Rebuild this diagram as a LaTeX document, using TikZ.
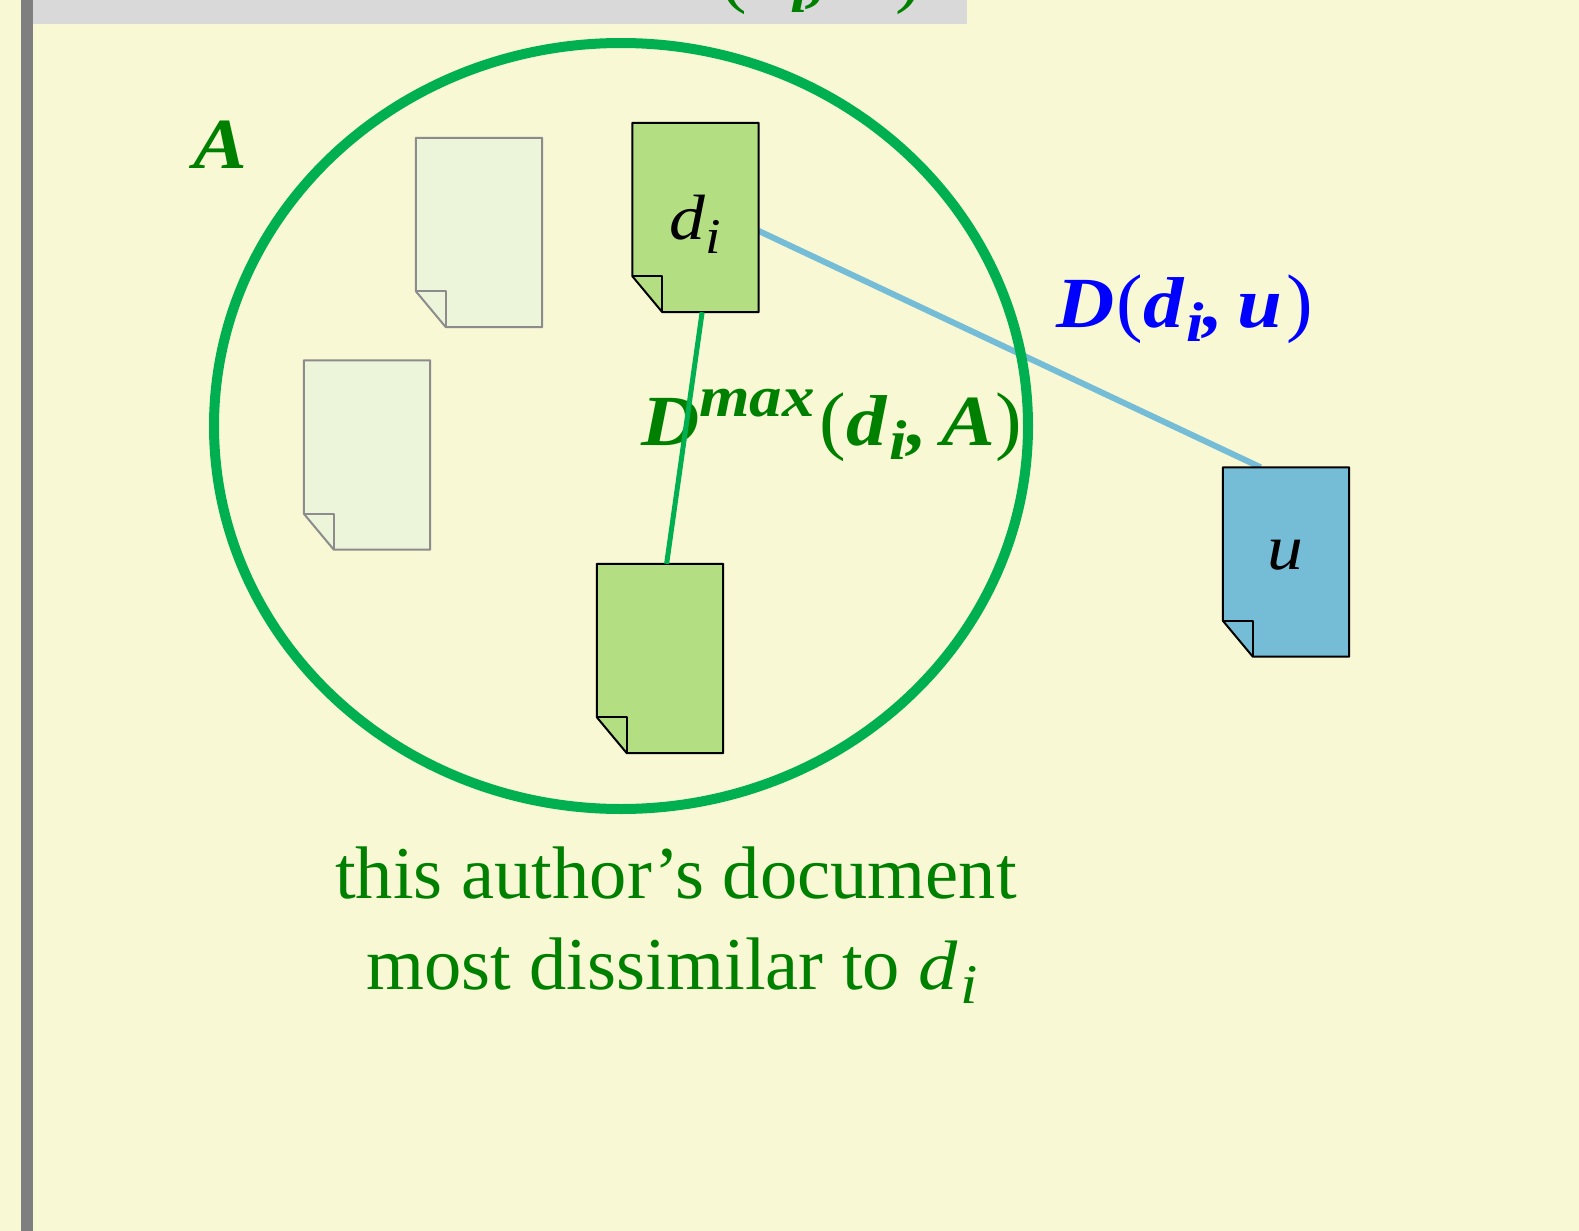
\documentclass[tikz,border=0pt]{standalone}
\usepackage{fontspec}
\setmainfont{Liberation Serif}
\newfontfamily\mathfam[FakeStretch=1.12]{Liberation Serif}
\newfontfamily\uprfam[FakeStretch=1.05]{Liberation Serif}
\usetikzlibrary{calc,shapes.geometric}
\definecolor{bgc}{HTML}{F8F8D4}
\definecolor{barc}{HTML}{7F7F7F}
\definecolor{boxc}{HTML}{D9D9D9}
\definecolor{ringc}{HTML}{00B050}
\definecolor{greenc}{HTML}{008000}
\definecolor{bluec}{HTML}{0000FF}
\definecolor{lineb}{HTML}{75BDD6}
\definecolor{docg}{HTML}{B3DF82}
\definecolor{docp}{HTML}{ECF5D9}
\definecolor{grayl}{HTML}{8C8C8C}
\newcommand{\bi}[1]{{\fontsize{72}{72}\mathfam\bfseries\itshape #1}}
\newcommand{\pr}[1]{{\fontsize{76}{76}\uprfam #1}}
\newcommand{\bisub}[1]{\kern3pt\raisebox{-14pt}{\fontsize{56}{56}\mathfam\bfseries\itshape #1}}
\newcommand{\bisup}[1]{\raisebox{29pt}{\fontsize{58}{58}\mathfam\bfseries\itshape #1}}
\newcommand{\itx}[1]{{\fontsize{64}{64}\mathfam\itshape #1}}
\newcommand{\itsub}[1]{\raisebox{-14pt}{\fontsize{50}{50}\mathfam\itshape #1}}
\newcommand{\capd}[1]{{\fontsize{70}{70}\mathfam\itshape #1}}
\newcommand{\capi}[1]{\kern3pt\raisebox{-14pt}{\fontsize{56}{56}\mathfam\itshape #1}}
\newcommand{\docshape}[3]{%
  \draw[line width=2pt,draw=#2,fill=#3,line join=round]
    (#1.north west) -- (#1.north east) -- (#1.south east)
    -- ($(#1.south west)+(30,0)$) -- ($(#1.south west)+(0,-36)$) -- cycle;
  \draw[line width=2pt,draw=#2,line join=round]
    ($(#1.south west)+(0,-36)$) -- ($(#1.south west)+(30,-36)$) -- ($(#1.south west)+(30,0)$);
}
\tikzset{
  docbox/.style={rectangle,minimum width=126pt,minimum height=189pt,inner sep=0pt,draw=none},
  lab/.style={anchor=base west,inner sep=0pt},
  capt/.style={anchor=base,inner sep=0pt,text=greenc,font=\fontsize{74.5}{74.5}\selectfont},
}
\begin{document}
\begin{tikzpicture}[x=1pt,y=-1pt]
\useasboundingbox (0,0) rectangle (1579,1231);
\clip (0,0) rectangle (1579,1231);
\fill[bgc] (0,0) rectangle (1579,1231);
\fill[barc] (21,0) rectangle (33,1231);
\fill[boxc] (33,0) rectangle (967,24);
\node[lab,text=greenc] (top) at (720,-1) {\pr{(}\bi{d}\bisub{i}\bi{,\kern14pt A}\pr{)}};
% documents
\node[docbox] (p1) at (479,232.5) {};
\node[docbox] (p2) at (367,455) {};
\node[docbox] (di) at (695.5,217.5) {};
\node[docbox] (far) at (660,658.5) {};
\node[docbox] (u) at (1286,562) {};
\draw[lineb,line width=6pt] (di.-12.5) -- (u.105.9);
\docshape{p1}{grayl}{docp}
\docshape{p2}{grayl}{docp}
\docshape{di}{black}{docg}
\docshape{far}{black}{docg}
\docshape{u}{black}{lineb}
% labels
\node[lab] (dilab) at (669,239) {\itx{d}\itsub{i}};
\node[lab] (ulab) at (1267,569) {\itx{u}};
\node[lab,text=greenc] (alab) at (193,168) {\bi{A}};
\node[lab,text=bluec] (dist) at (1056,327) {\bi{D}\kern2pt\pr{(}\bi{d}\bisub{i}\bi{,\kern14pt u}\kern4pt\pr{)}};
\node[lab,text=greenc] (dmax) at (641,445) {\bi{D}\bisup{max}\kern5pt\pr{(}\bi{d}\bisub{i}\bi{,\kern14pt A}\pr{)}};
\node[capt] (c1) at (676,898) {this author’s document};
\node[lab,text=greenc] (c2) at (366,989) {\fontsize{74.5}{74.5}\selectfont most dissimilar to \capd{d}\capi{i}};
% connectors
\node[draw=ringc,line width=10pt,ellipse,minimum width=814pt,minimum height=766pt,inner sep=0pt] (ring) at (621,426) {};
\draw[ringc,line width=5pt] (di.-86.2) -- (far.86.4);
\end{tikzpicture}
\end{document}
